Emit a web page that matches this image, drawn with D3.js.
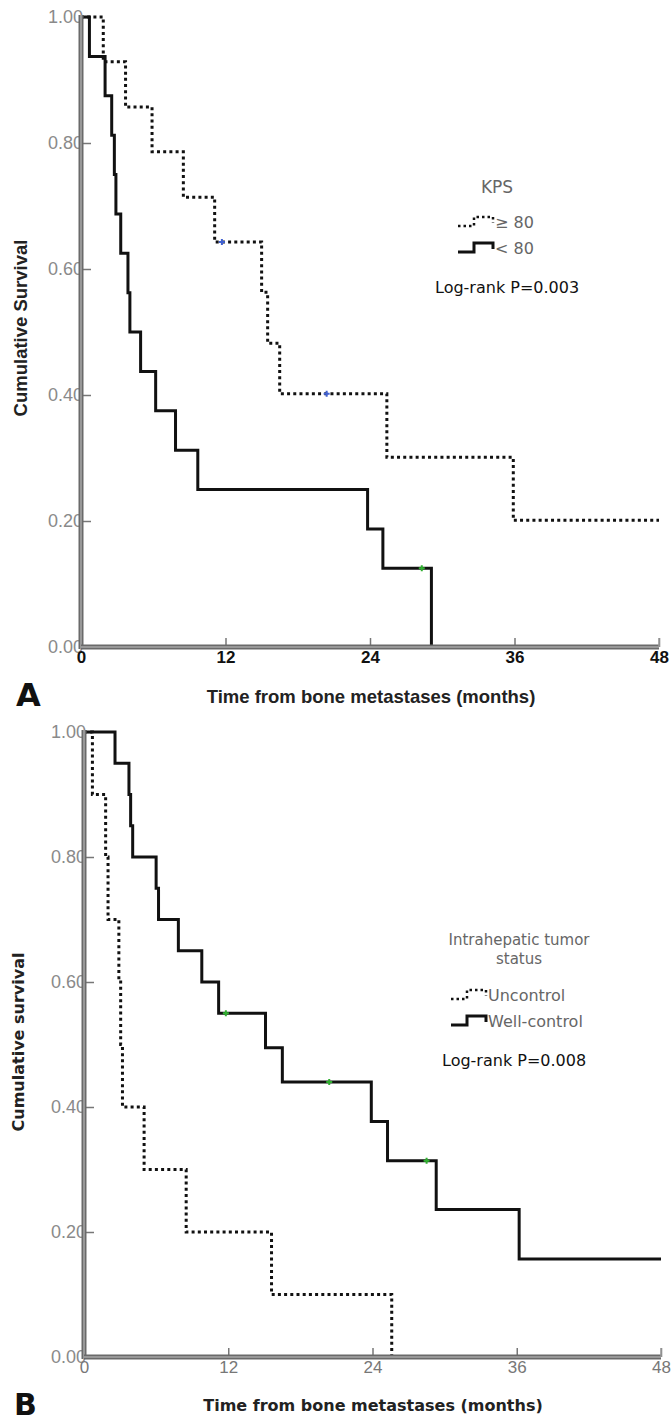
<!DOCTYPE html>
<html>
<head>
<meta charset="utf-8">
<script src="https://cdn.jsdelivr.net/npm/d3@7"></script>
<style>
  body { margin: 0; background: #fff; }
  svg { display: block; }
</style>
</head>
<body>
<svg id="chart"></svg>
<script>
// ---- data ----
// panel A: KPS
var kpsHighTimes = [0, 1.85, 3.7, 5.9, 8.5, 11.1, 15.0, 15.5, 16.5, 25.4, 35.9, 48];
var kpsHighSurv = [1, 0.929, 0.857, 0.786, 0.714, 0.643, 0.563, 0.482, 0.402, 0.301, 0.201, 0.201];
var kpsHighCensor = [[11.7, 0.643], [20.4, 0.402]];

var kpsLowTimes = [0, 0.7, 2.0, 2.55, 2.77, 2.9, 3.3, 3.9, 4.06, 4.95, 6.2, 7.85, 9.7, 23.8, 25.07, 29.1];
var kpsLowSurv = [1, 0.9375, 0.875, 0.8125, 0.75, 0.6875, 0.625, 0.5625, 0.5, 0.4375, 0.375, 0.3125, 0.25, 0.1875, 0.125, 0];
var kpsLowCensor = [[28.3, 0.125]];

// panel B: intrahepatic tumor status
var unctrlTimes = [0, 0.7, 1.8, 2.0, 2.9, 3.05, 3.2, 5.0, 8.5, 15.6, 25.6];
var unctrlSurv = [1, 0.9, 0.8, 0.7, 0.6, 0.5, 0.4, 0.3, 0.2, 0.1, 0];

var wellTimes = [0, 2.58, 3.74, 3.88, 4.05, 6.0, 6.2, 7.85, 9.8, 11.2, 15.1, 16.5, 23.9, 25.25, 29.3, 36.2, 48];
var wellSurv = [1, 0.95, 0.9, 0.85, 0.8, 0.75, 0.7, 0.65, 0.6, 0.55, 0.495, 0.44, 0.377, 0.314, 0.236, 0.157, 0.157];
var wellCensor = [[11.8, 0.55], [20.4, 0.44], [28.5, 0.314]];

var xTicks = [0, 12, 24, 36, 48];
var yTicks = [0, 0.2, 0.4, 0.6, 0.8, 1.0];

const W = 672, H = 1422;
var narrow = "'Liberation Sans Narrow', 'Arial Narrow', 'Liberation Sans', Arial, sans-serif";
var sans = "'Liberation Sans', Arial, sans-serif";
var wide = "'DejaVu Sans', Verdana, sans-serif";

var svg = d3.select("#chart").attr("width", W).attr("height", H);

function zip(ts, ss) {
  return ts.map((t, i) => [t, ss[i]]);
}

function drawPanel(p) {
  var x = d3.scaleLinear().domain([0, 48]).range([p.left, p.right]);
  var y = d3.scaleLinear().domain([0, 1]).range([p.bottom, p.top]);
  var g = svg.append("g");

  var line = d3.line()
    .x((d) => x(d[0]))
    .y((d) => y(d[1]))
    .curve(d3.curveStepAfter);

  // y tick labels (drawn under the axis line, like the original)
  var yAx = g.append("g")
    .attr("transform", "translate(" + (p.left + 1) + ",0)")
    .call(d3.axisLeft(y).tickValues(yTicks).tickSizeInner(-9).tickSizeOuter(0)
      .tickPadding(-1).tickFormat(d3.format(".2f")));
  yAx.select(".domain").remove();
  yAx.selectAll("line").attr("stroke", "#777").attr("stroke-width", 1.5);
  yAx.selectAll("text").attr("fill", "#8a8a8a")
    .style("font-family", sans).style("font-size", "18px");

  var xAx = g.append("g")
    .attr("transform", "translate(0," + p.bottom + ")")
    .call(d3.axisBottom(x).tickValues(xTicks).tickSizeInner(-9).tickSizeOuter(0).tickPadding(4));
  xAx.select(".domain").remove();
  xAx.selectAll("line").attr("stroke", "#777").attr("stroke-width", 1.5)
    .attr("opacity", (d) => (d === 0 ? 0 : 1));
  xAx.selectAll("text")
    .attr("fill", p.xTickColor)
    .style("font-family", narrow)
    .style("font-weight", p.xTickWeight)
    .style("font-size", "17px");

  // curves
  p.curves.forEach(function (c) {
    g.append("path")
      .datum(c.pts)
      .attr("fill", "none")
      .attr("stroke", "#111")
      .attr("stroke-width", 3)
      .attr("stroke-dasharray", c.dotted ? "3,3.2" : null)
      .attr("d", line);
    (c.censor || []).forEach(function (m) {
      g.append("path")
        .attr("d", "M" + (x(m[0]) - 3) + "," + y(m[1]) + "h6M" + x(m[0]) + "," + (y(m[1]) - 3) + "v6")
        .attr("stroke", c.censorColor)
        .attr("stroke-width", 2);
    });
  });

  // axis lines: thick grey double line
  [[p.left, p.top - 2, p.left, p.bottom + 2], [p.left, p.bottom, p.right, p.bottom]].forEach(function (l) {
    g.append("line").attr("x1", l[0]).attr("y1", l[1]).attr("x2", l[2]).attr("y2", l[3])
      .attr("stroke", "#6a6a6a").attr("stroke-width", 5);
    g.append("line").attr("x1", l[0]).attr("y1", l[1]).attr("x2", l[2]).attr("y2", l[3])
      .attr("stroke", "#a8a8a8").attr("stroke-width", 1.5);
  });
  // small end tick at 48
  g.append("line").attr("x1", p.right).attr("x2", p.right)
    .attr("y1", p.bottom).attr("y2", p.bottom - 9)
    .attr("stroke", "#999").attr("stroke-width", 1.5);

  // axis titles
  g.append("text")
    .attr("transform", "translate(" + p.yLabelX + "," + p.yLabelY + ") rotate(-90)")
    .attr("text-anchor", "middle")
    .style("font-family", p.titleFont)
    .style("font-weight", "bold")
    .style("font-size", p.yLabelSize)
    .attr("fill", "#222")
    .text(p.yLabel);

  g.append("text")
    .attr("x", p.xLabelX).attr("y", p.xLabelY)
    .attr("text-anchor", "middle")
    .style("font-family", p.titleFont)
    .style("font-weight", "bold")
    .style("font-size", p.xLabelSize)
    .attr("fill", "#222")
    .text("Time from bone metastases (months)");

  // panel letter
  g.append("text")
    .attr("x", p.letterX).attr("y", p.letterY)
    .style("font-family", wide)
    .style("font-weight", "bold")
    .style("font-size", p.letterSize)
    .attr("fill", "#111")
    .text(p.letter);

  // legend
  var lg = g.append("g");
  p.legendTitle.forEach(function (t, i) {
    lg.append("text")
      .attr("x", p.legendCx).attr("y", p.legendTy + i * 19)
      .attr("text-anchor", "middle")
      .style("font-family", wide).style("font-size", p.legendTitleSize)
      .attr("fill", "#666")
      .text(t);
  });
  p.curves.forEach(function (c, i) {
    var ly = p.legendY + i * 26;
    var sx = p.legendSx;
    lg.append("path")
      .attr("d", "M" + sx + "," + (ly + 4) + "H" + (sx + 16) + "V" + (ly - 5) + "H" + (sx + 35) + "V" + (ly + 1))
      .attr("fill", "none")
      .attr("stroke", "#111")
      .attr("stroke-width", c.dotted ? 2.5 : 3)
      .attr("stroke-dasharray", c.dotted ? "2.5,3" : null);
    lg.append("text")
      .attr("x", sx + 37).attr("y", ly + 6)
      .style("font-family", wide).style("font-size", "16px")
      .attr("fill", "#666")
      .text(c.label);
  });
  lg.append("text")
    .attr("x", p.pX).attr("y", p.pY)
    .style("font-family", wide).style("font-size", "16px")
    .attr("fill", "#111")
    .text(p.pText);
}

drawPanel({
  left: 81, right: 659, top: 17, bottom: 647,
  xTickColor: "#111", xTickWeight: "bold",
  titleFont: narrow,
  yLabel: "Cumulative Survival", yLabelX: 27, yLabelY: 328, yLabelSize: "18.5px",
  xLabelX: 371, xLabelY: 703, xLabelSize: "18.5px",
  letter: "A", letterX: 16, letterY: 706, letterSize: "32px",
  legendTitle: ["KPS"], legendCx: 497, legendTy: 193, legendTitleSize: "17px",
  legendY: 222, legendSx: 458,
  pText: "Log-rank P=0.003", pX: 435, pY: 293,
  curves: [
    { pts: zip(kpsHighTimes, kpsHighSurv), dotted: true, label: "\u2265 80", censor: kpsHighCensor, censorColor: "#4060d0" },
    { pts: zip(kpsLowTimes, kpsLowSurv), dotted: false, label: "< 80", censor: kpsLowCensor, censorColor: "#30b030" },
  ],
});

drawPanel({
  left: 84, right: 661, top: 732, bottom: 1357,
  xTickColor: "#777", xTickWeight: "normal",
  titleFont: wide,
  yLabel: "Cumulative survival", yLabelX: 24, yLabelY: 1042, yLabelSize: "16px",
  xLabelX: 373, xLabelY: 1411, xLabelSize: "16px",
  letter: "B", letterX: 14, letterY: 1415, letterSize: "30px",
  legendTitle: ["Intrahepatic tumor", "status"], legendCx: 519, legendTy: 945, legendTitleSize: "15px",
  legendY: 995, legendSx: 451,
  pText: "Log-rank P=0.008", pX: 442, pY: 1066,
  curves: [
    { pts: zip(unctrlTimes, unctrlSurv), dotted: true, label: "Uncontrol" },
    { pts: zip(wellTimes, wellSurv), dotted: false, label: "Well-control", censor: wellCensor, censorColor: "#30b030" },
  ],
});
</script>
</body>
</html>
